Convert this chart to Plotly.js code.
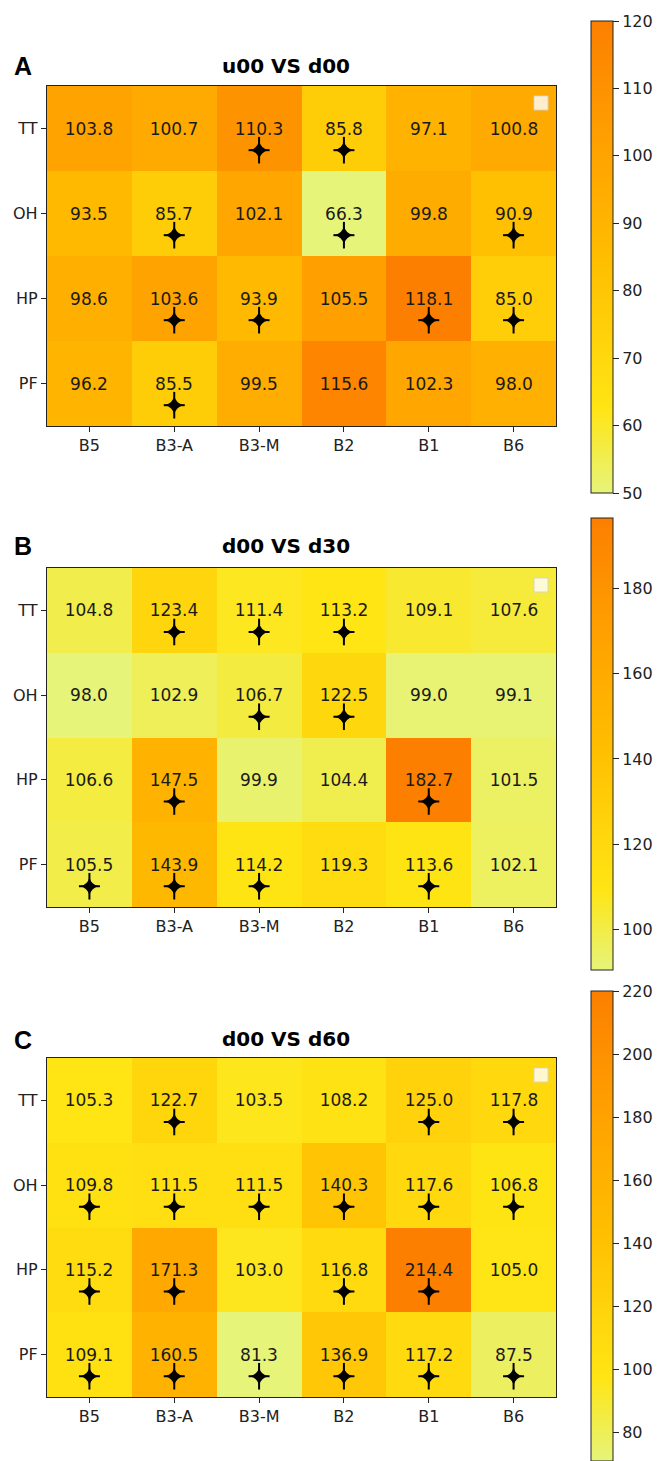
<!DOCTYPE html>
<html>
<head>
<meta charset="utf-8">
<script src="https://cdn.plot.ly/plotly-3.0.1.min.js"></script>
<style>html,body{margin:0;padding:0;background:#fff;}#chart{width:662px;height:1461px;}</style>
</head>
<body>
<div id="chart"></div>
<script>
// ---------- data ----------
const rowLabels = ['TT', 'OH', 'HP', 'PF'];
const colLabels = ['B5', 'B3-A', 'B3-M', 'B2', 'B1', 'B6'];

const panelLetters = ['A', 'B', 'C'];
const panelTitles = ['u00 VS d00', 'd00 VS d30', 'd00 VS d60'];

const valuesA = [
  [103.8, 100.7, 110.3, 85.8, 97.1, 100.8],
  [93.5, 85.7, 102.1, 66.3, 99.8, 90.9],
  [98.6, 103.6, 93.9, 105.5, 118.1, 85.0],
  [96.2, 85.5, 99.5, 115.6, 102.3, 98.0]
];
const starsA = [
  [0, 0, 1, 1, 0, 0],
  [0, 1, 0, 1, 0, 1],
  [0, 1, 1, 0, 1, 1],
  [0, 1, 0, 0, 0, 0]
];

const valuesB = [
  [104.8, 123.4, 111.4, 113.2, 109.1, 107.6],
  [98.0, 102.9, 106.7, 122.5, 99.0, 99.1],
  [106.6, 147.5, 99.9, 104.4, 182.7, 101.5],
  [105.5, 143.9, 114.2, 119.3, 113.6, 102.1]
];
const starsB = [
  [0, 1, 1, 1, 0, 0],
  [0, 0, 1, 1, 0, 0],
  [0, 1, 0, 0, 1, 0],
  [1, 1, 1, 0, 1, 0]
];

const valuesC = [
  [105.3, 122.7, 103.5, 108.2, 125.0, 117.8],
  [109.8, 111.5, 111.5, 140.3, 117.6, 106.8],
  [115.2, 171.3, 103.0, 116.8, 214.4, 105.0],
  [109.1, 160.5, 81.3, 136.9, 117.2, 87.5]
];
const starsC = [
  [0, 1, 0, 0, 1, 1],
  [1, 1, 1, 1, 1, 1],
  [1, 1, 0, 1, 1, 0],
  [1, 1, 1, 1, 1, 1]
];

// colorbar scales shown beside each panel
const cbarRangeA = [50, 120];
const cbarRangeB = [90.6, 196.4];
const cbarRangeC = [71, 220];
const cbarTicksA = [50, 60, 70, 80, 90, 100, 110, 120];
const cbarTicksB = [100, 120, 140, 160, 180];
const cbarTicksC = [80, 100, 120, 140, 160, 180, 200, 220];

// ---------- styling / layout ----------
const W = 662, H = 1461;
const colorscale = [[0, '#e6f47a'], [0.18, '#ffe514'], [0.5, '#ffbd00'], [0.75, '#ffa000'], [1, '#fc7f00']];
const FONT = 'DejaVu Sans, Liberation Sans, sans-serif';
const plotX = [47, 556];
const panelsPx = [[86, 426], [568, 907], [1058, 1397]];
const cbarPx = [[21, 493], [518, 970], [991, 1461]];
const titleY = [65.5, 545.5, 1039];
const titleX = 286;
const cbarX = 591;

const values = [valuesA, valuesB, valuesC];
const stars = [starsA, starsB, starsC];
const cbarRanges = [cbarRangeA, cbarRangeB, cbarRangeC];
const cbarTicks = [cbarTicksA, cbarTicksB, cbarTicksC];

const colIdx = colLabels.map((_, i) => i);
const rowIdx = rowLabels.map((_, i) => i);
const starOffset = 0.255;

const data = [];
const layout = {
  width: W, height: H,
  margin: {l: 0, r: 0, t: 0, b: 0},
  paper_bgcolor: '#ffffff',
  plot_bgcolor: '#ffffff',
  showlegend: false,
  font: {family: FONT, color: '#222'},
  annotations: [],
  shapes: []
};

for (let p = 0; p < 3; p++) {
  const sfx = p === 0 ? '' : String(p + 1);
  const xa = 'x' + sfx, ya = 'y' + sfx;
  const [top, bot] = panelsPx[p];
  const [cTop, cBot] = cbarPx[p];

  // colorbar carrier (drawn underneath, hidden by real heatmap)
  data.push({
    type: 'heatmap', x: colIdx, y: rowIdx, z: values[p],
    xaxis: xa, yaxis: ya,
    colorscale: colorscale, zmin: cbarRanges[p][0], zmax: cbarRanges[p][1],
    hoverinfo: 'skip', showscale: true,
    colorbar: {
      x: cbarX / W, xanchor: 'left',
      y: 1 - ((cTop + cBot) / 2) / H, yanchor: 'middle',
      len: cBot - cTop, lenmode: 'pixels',
      thickness: 22, thicknessmode: 'pixels',
      xpad: 0, ypad: 0,
      outlinewidth: 1, outlinecolor: '#222',
      ticks: 'outside', ticklen: 6, tickwidth: 1, tickcolor: '#222',
      tickmode: 'array', tickvals: cbarTicks[p], ticktext: cbarTicks[p].map(String),
      tickfont: {family: FONT, size: 16, color: '#222'}
    }
  });

  // actual heatmap, colour normalised to panel data
  data.push({
    type: 'heatmap', x: colIdx, y: rowIdx, z: values[p],
    xaxis: xa, yaxis: ya,
    colorscale: colorscale, showscale: false,
    texttemplate: '%{z:.1f}',
    textfont: {family: FONT, size: 17, color: '#1a1a1a'},
    hoverinfo: 'skip'
  });

  // significance stars (thin four-pointed star: core + vertical + horizontal arms)
  const sx = [], sy = [];
  stars[p].forEach((row, r) => row.forEach((s, c) => {
    if (s) { sx.push(colIdx[c]); sy.push(rowIdx[r] + starOffset); }
  }));
  data.push({
    type: 'scatter', mode: 'markers', x: sx, y: sy, xaxis: xa, yaxis: ya,
    marker: {symbol: 'line-ns', size: 19, color: '#000', line: {width: 2, color: '#000'}},
    hoverinfo: 'skip'
  });
  data.push({
    type: 'scatter', mode: 'markers', x: sx, y: sy, xaxis: xa, yaxis: ya,
    marker: {symbol: 'line-ew', size: 15, color: '#000', line: {width: 2, color: '#000'}},
    hoverinfo: 'skip'
  });
  data.push({
    type: 'scatter', mode: 'markers', x: sx, y: sy, xaxis: xa, yaxis: ya,
    marker: {symbol: 'star-diamond', size: 13, color: '#000', line: {width: 0}},
    hoverinfo: 'skip'
  });

  layout['xaxis' + sfx] = {
    domain: [plotX[0] / W, plotX[1] / W], anchor: ya,
    range: [-0.5, colLabels.length - 0.5],
    tickmode: 'array', tickvals: colIdx, ticktext: colLabels,
    ticks: 'outside', ticklen: 5, tickwidth: 1, tickcolor: '#222',
    tickfont: {family: FONT, size: 16, color: '#222'},
    showgrid: false, zeroline: false,
    showline: true, mirror: true, linecolor: '#222', linewidth: 1.2,
    fixedrange: true
  };
  layout['yaxis' + sfx] = {
    domain: [1 - bot / H, 1 - top / H], anchor: xa,
    range: [rowLabels.length - 0.5, -0.5],
    tickmode: 'array', tickvals: rowIdx, ticktext: rowLabels,
    ticks: 'outside', ticklen: 5, tickwidth: 1, tickcolor: '#222',
    tickfont: {family: FONT, size: 16, color: '#222'},
    showgrid: false, zeroline: false,
    showline: true, mirror: true, linecolor: '#222', linewidth: 1.2,
    fixedrange: true
  };

  // title
  layout.annotations.push({
    xref: 'paper', yref: 'paper',
    x: titleX / W, y: 1 - titleY[p] / H,
    xanchor: 'center', yanchor: 'middle', showarrow: false,
    text: '<b>' + panelTitles[p] + '</b>',
    font: {family: FONT, size: 20, color: '#000'}
  });
  // panel letter
  layout.annotations.push({
    xref: 'paper', yref: 'paper',
    x: 12 / W, y: 1 - (titleY[p] + 0.5) / H,
    xanchor: 'left', yanchor: 'middle', showarrow: false,
    text: '<b>' + panelLetters[p] + '</b>',
    font: {family: 'Liberation Sans, Arial, sans-serif', size: 25, color: '#000'}
  });

  // empty legend box (top-right)
  layout.shapes.push({
    type: 'rect', xref: xa + ' domain', yref: ya + ' domain',
    xsizemode: 'pixel', ysizemode: 'pixel', xanchor: 1, yanchor: 1,
    x0: -22, x1: -8, y0: -24, y1: -10,
    fillcolor: 'rgba(255,255,255,0.8)', line: {color: 'rgba(210,210,210,0.9)', width: 1},
    layer: 'above'
  });
}

Plotly.newPlot('chart', data, layout, {staticPlot: true, displayModeBar: false});
</script>
</body>
</html>
